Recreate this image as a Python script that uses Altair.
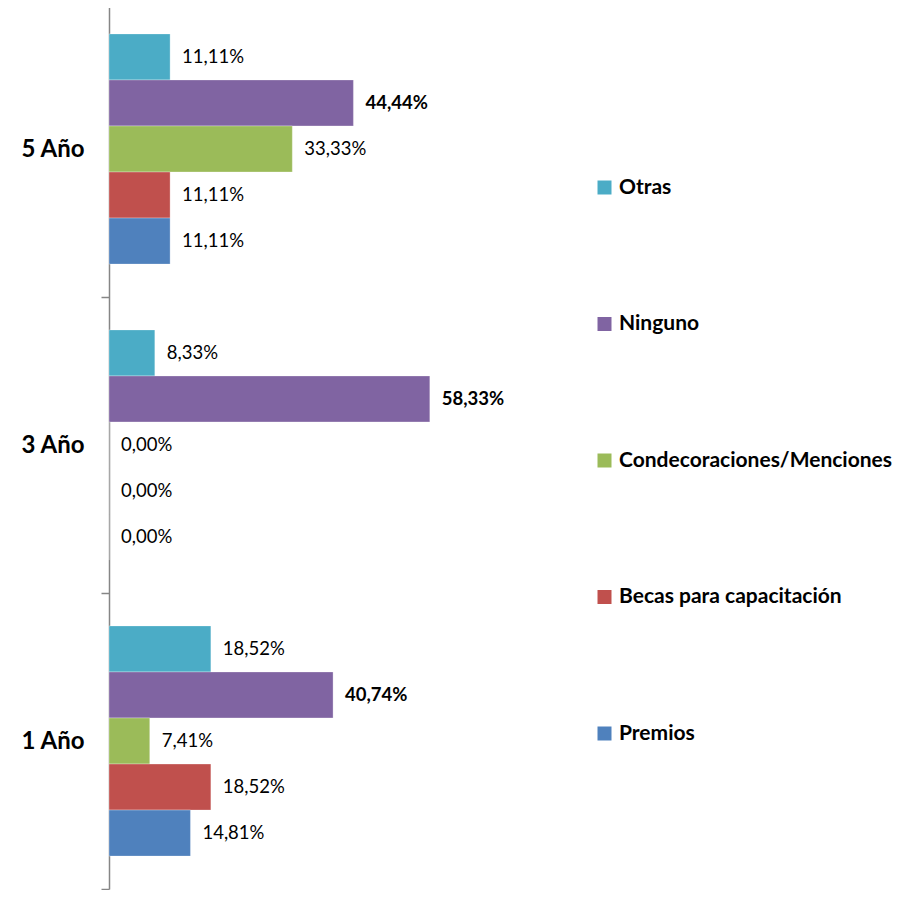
import altair as alt
import pandas as pd

years = ["5 Año", "3 Año", "1 Año"]
series = ["Otras", "Ninguno", "Condecoraciones/Menciones", "Becas para capacitación", "Premios"]
colors = ["#4BACC6", "#8064A2", "#9BBB59", "#C0504D", "#4F81BD"]
values = {
    "5 Año": [11.11, 44.44, 33.33, 11.11, 11.11],
    "3 Año": [8.33, 58.33, 0.00, 0.00, 0.00],
    "1 Año": [18.52, 40.74, 7.41, 18.52, 14.81],
}

rows = []
for y in years:
    for s, v in zip(series, values[y]):
        rows.append({"year": y, "serie": s, "value": v,
                     "label": f"{v:.2f}".replace(".", ",") + "%"})
df = pd.DataFrame(rows)

FONT = "Lato"

y_enc = alt.Y("year:N", sort=years, title=None,
              scale=alt.Scale(paddingInner=0, paddingOuter=0),
              axis=alt.Axis(labelFontSize=24, labelFontWeight="bold", labelColor="#000000",
                            labelFont=FONT, tickBand="extent", tickSize=8, tickColor="#868686",
                            tickWidth=1.5, domainColor="#868686", domainWidth=1.5, labelPadding=17))
yo_enc = alt.YOffset("serie:N", sort=series,
                     scale=alt.Scale(domain=series, paddingInner=0, paddingOuter=0.714))
x_enc = alt.X("value:Q", scale=alt.Scale(domain=[0, 80]), axis=None)

bars = alt.Chart(df).mark_bar(stroke="white", strokeWidth=0.5, strokeOpacity=0.6).encode(
    y=y_enc, yOffset=yo_enc, x=x_enc,
    color=alt.Color("serie:N", scale=alt.Scale(domain=series, range=colors),
                    legend=alt.Legend(title=None, orient="none", legendX=485, legendY=176,
                                      symbolType="square", symbolSize=196, symbolStrokeWidth=0,
                                      labelFontSize=21, labelFontWeight="bold", labelFont=FONT,
                                      labelColor="#000000", rowPadding=114.5, labelOffset=4,
                                      labelLimit=400)),
)

text_norm = alt.Chart(df).transform_filter(alt.datum.serie != "Ninguno").mark_text(
    align="left", baseline="middle", dx=12, fontSize=18.5, font=FONT, color="#000000").encode(
    y=alt.Y("year:N", sort=years, title=None), yOffset=yo_enc, x=x_enc, text="label:N")

text_bold = alt.Chart(df).transform_filter(alt.datum.serie == "Ninguno").mark_text(
    align="left", baseline="middle", dx=12, fontSize=18.5, font=FONT, color="#000000",
    fontWeight="bold").encode(
    y=alt.Y("year:N", sort=years, title=None), yOffset=yo_enc, x=x_enc, text="label:N")

chart = (bars + text_norm + text_bold).properties(
    width=440, height=888,
    padding={"left": 12, "top": -19, "right": 0, "bottom": 0},
    background="white",
).configure_view(stroke=None)

chart.save("out.html", embed_options={"renderer": "svg", "actions": False})
